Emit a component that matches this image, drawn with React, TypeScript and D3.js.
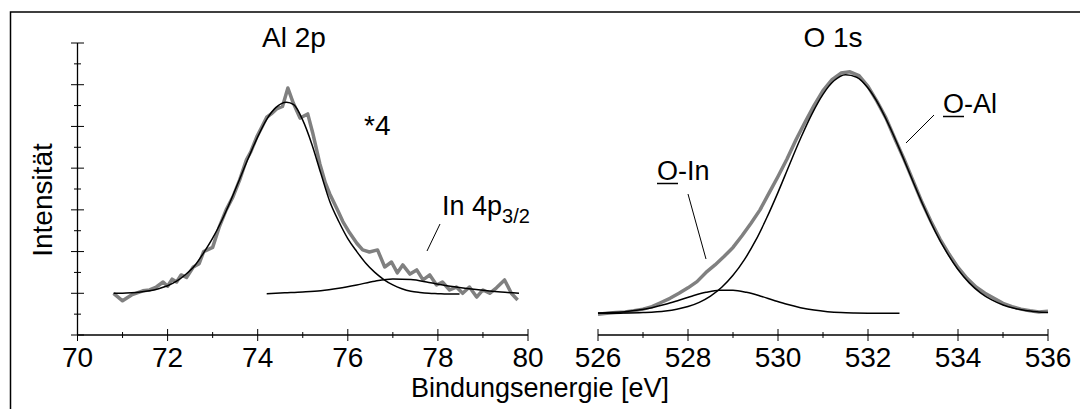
import * as d3 from 'd3';

// Al 2p measured spectrum (binding energy eV, intensity a.u.)
const al2pMeasured: [number, number][] = [
  [70.8, 1.0], [71.0, 0.82], [71.2, 0.96], [71.45, 1.06], [71.6, 1.08], [71.75, 1.15],
  [71.9, 1.27], [72.0, 1.17], [72.1, 1.34], [72.2, 1.27], [72.3, 1.44], [72.42, 1.38],
  [72.57, 1.63], [72.7, 1.71], [72.8, 2.0], [73.0, 2.1], [73.15, 2.6], [73.3, 3.0],
  [73.45, 3.31], [73.6, 3.72], [73.75, 4.2], [73.85, 4.4], [73.98, 4.75], [74.1, 5.0],
  [74.2, 5.22], [74.3, 5.3], [74.42, 5.42], [74.55, 5.48], [74.67, 5.92], [74.79, 5.56],
  [74.94, 5.2], [75.11, 5.3], [75.22, 4.85], [75.38, 4.1], [75.5, 3.65], [75.6, 3.38],
  [75.78, 2.98], [75.89, 2.72], [76.04, 2.45], [76.2, 2.2], [76.33, 2.04], [76.48, 1.99],
  [76.66, 2.04], [76.82, 1.63], [76.97, 1.75], [77.1, 1.49], [77.22, 1.68], [77.38, 1.46],
  [77.53, 1.56], [77.67, 1.32], [77.82, 1.44], [77.97, 1.2], [78.1, 1.27], [78.26, 1.08],
  [78.41, 1.15], [78.55, 1.0], [78.7, 1.15], [78.86, 0.91], [79.0, 1.08], [79.15, 1.0],
  [79.3, 1.13], [79.48, 1.32], [79.63, 1.0], [79.77, 0.84],
];

// Al 2p fitted component
const al2pFit: [number, number][] = [
  [70.8, 1.0], [71.0, 1.0], [71.2, 1.01], [71.4, 1.03], [71.6, 1.06], [71.8, 1.11],
  [72.0, 1.18], [72.2, 1.29], [72.4, 1.45], [72.6, 1.66], [72.8, 1.97], [73.0, 2.32],
  [73.2, 2.74], [73.4, 3.22], [73.6, 3.74], [73.8, 4.26], [74.0, 4.75], [74.2, 5.17],
  [74.4, 5.45], [74.64, 5.58], [74.8, 5.52], [75.0, 5.15], [75.2, 4.58], [75.4, 3.88],
  [75.6, 3.2], [75.8, 2.72], [76.0, 2.31], [76.2, 2.0], [76.4, 1.72], [76.6, 1.5],
  [76.8, 1.33], [77.0, 1.2], [77.2, 1.11], [77.4, 1.05], [77.6, 1.02], [77.8, 1.0],
  [78.0, 0.99], [78.2, 0.98], [78.48, 0.98],
];

// In 4p3/2 fitted component
const in4pFit: [number, number][] = [
  [74.2, 0.99], [74.6, 1.01], [75.0, 1.03], [75.4, 1.06], [75.8, 1.12], [76.2, 1.2],
  [76.6, 1.29], [77.0, 1.34], [77.4, 1.33], [77.8, 1.26], [78.2, 1.18], [78.6, 1.12],
  [79.0, 1.07], [79.4, 1.03], [79.8, 1.0],
];

// O 1s measured spectrum
const o1sMeasured: [number, number][] = [
  [526.0, 0.5], [526.2, 0.52], [526.4, 0.54], [526.6, 0.55], [526.8, 0.58], [527.0, 0.62],
  [527.2, 0.68], [527.4, 0.78], [527.6, 0.88], [527.8, 1.0], [528.0, 1.13], [528.2, 1.28],
  [528.4, 1.5], [528.6, 1.68], [528.8, 1.88], [529.0, 2.1], [529.2, 2.38], [529.4, 2.68],
  [529.6, 3.0], [529.8, 3.4], [530.0, 3.8], [530.2, 4.22], [530.4, 4.68], [530.6, 5.1],
  [530.8, 5.5], [531.0, 5.86], [531.2, 6.12], [531.4, 6.28], [531.6, 6.31], [531.8, 6.22],
  [532.0, 5.96], [532.2, 5.6], [532.4, 5.2], [532.6, 4.7], [532.8, 4.22], [533.0, 3.7],
  [533.2, 3.18], [533.4, 2.72], [533.6, 2.3], [533.8, 1.94], [534.0, 1.62], [534.2, 1.36],
  [534.4, 1.15], [534.6, 1.0], [534.8, 0.88], [535.0, 0.76], [535.2, 0.68], [535.4, 0.62],
  [535.6, 0.58], [535.8, 0.55], [536.0, 0.57],
];

// O 1s fitted components
const oAlFit: [number, number][] = [
  [526.0, 0.52], [526.5, 0.524], [527.0, 0.537], [527.5, 0.575], [527.75, 0.617],
  [528.0, 0.682], [528.25, 0.783], [528.5, 0.932], [528.75, 1.144], [529.0, 1.43],
  [529.25, 1.8], [529.5, 2.26], [529.75, 2.81], [530.0, 3.42], [530.25, 4.07],
  [530.5, 4.71], [530.75, 5.29], [531.0, 5.77], [531.25, 6.1], [531.5, 6.24],
  [531.75, 6.18], [532.0, 5.92], [532.25, 5.5], [532.5, 4.95], [532.75, 4.33],
  [533.0, 3.68], [533.25, 3.05], [533.5, 2.47], [533.75, 1.98], [534.0, 1.57],
  [534.25, 1.25], [534.5, 1.01], [534.75, 0.84], [535.0, 0.72], [535.25, 0.64],
  [535.5, 0.59], [535.75, 0.56], [536.0, 0.54],
];

const oInFit: [number, number][] = [
  [526.0, 0.528], [526.3, 0.538], [526.6, 0.56], [526.9, 0.597], [527.2, 0.655],
  [527.5, 0.735], [527.8, 0.834], [528.1, 0.937], [528.4, 1.023], [528.7, 1.073],
  [529.0, 1.073], [529.3, 1.023], [529.6, 0.937], [529.9, 0.834], [530.2, 0.735],
  [530.5, 0.655], [530.8, 0.597], [531.1, 0.56], [531.4, 0.538], [531.7, 0.528],
  [532.0, 0.523], [532.3, 0.521], [532.7, 0.52],
];

const leftDomain = [70, 80];
const rightDomain = [526, 536];
const yDomain = [0, 7];

const font = '"Liberation Sans", Arial, sans-serif';

export default function App() {
  const xL = d3.scaleLinear().domain(leftDomain).range([77.5, 528]);
  const xR = d3.scaleLinear().domain(rightDomain).range([598, 1048]);
  const y = d3.scaleLinear().domain(yDomain).range([335, 43]);

  const lineL = d3.line<[number, number]>().x((d) => xL(d[0])).y((d) => y(d[1]));
  const lineR = d3.line<[number, number]>().x((d) => xR(d[0])).y((d) => y(d[1]));
  const fitL = d3.line<[number, number]>().x((d) => xL(d[0])).y((d) => y(d[1])).curve(d3.curveMonotoneX);
  const fitR = d3.line<[number, number]>().x((d) => xR(d[0])).y((d) => y(d[1])).curve(d3.curveMonotoneX);

  const xAxis = (sc: d3.ScaleLinear<number, number>) => {
    const [r0, r1] = sc.range();
    return (
      <g>
        <line x1={r0} x2={r1} y1={335} y2={335} stroke="#000" strokeWidth={1.3} />
        {sc.ticks(10).map((t) => {
          const major = t % 2 === 0;
          return (
            <g key={t}>
              <line
                x1={sc(t)} x2={sc(t)}
                y1={major ? 329 : 332} y2={major ? 341 : 338}
                stroke="#000" strokeWidth={1}
              />
              {major && (
                <text x={sc(t)} y={367} textAnchor="middle" fontSize={28} fontFamily={font}>
                  {t}
                </text>
              )}
            </g>
          );
        })}
      </g>
    );
  };

  const yTicks = d3.range(0, 7.01, 0.5);

  return (
    <svg width={1080} height={409} style={{ position: 'absolute', left: 0, top: 0, background: '#fff' }}>
      <rect x={10.5} y={12} width={1100} height={420} fill="#fff" stroke="#000" strokeWidth={1.5} />

      {/* y axis */}
      <line x1={77.5} x2={77.5} y1={y(0)} y2={y(7)} stroke="#000" strokeWidth={1.3} />
      {yTicks.map((t) => {
        const major = t % 1 === 0;
        return (
          <line key={t} x1={major ? 71 : 74} x2={major ? 84 : 81} y1={y(t)} y2={y(t)} stroke="#000" strokeWidth={1} />
        );
      })}

      {xAxis(xL)}
      {xAxis(xR)}

      {/* Al 2p */}
      <path d={lineL(al2pMeasured) ?? ''} fill="none" stroke="#808080" strokeWidth={3.5} strokeLinejoin="round" />
      <path d={fitL(al2pFit) ?? ''} fill="none" stroke="#000" strokeWidth={1.5} />
      <path d={fitL(in4pFit) ?? ''} fill="none" stroke="#000" strokeWidth={1.5} />

      {/* O 1s */}
      <path d={lineR(o1sMeasured) ?? ''} fill="none" stroke="#808080" strokeWidth={3.5} strokeLinejoin="round" />
      <path d={fitR(oAlFit) ?? ''} fill="none" stroke="#000" strokeWidth={1.5} />
      <path d={fitR(oInFit) ?? ''} fill="none" stroke="#000" strokeWidth={1.5} />

      {/* labels */}
      <g fontFamily={font} fill="#000">
        <text x={294} y={47} textAnchor="middle" fontSize={28}>Al 2p</text>
        <text x={833} y={47} textAnchor="middle" fontSize={28}>O 1s</text>
        <text x={364} y={135} fontSize={28}>*4</text>
        <text x={442} y={215} fontSize={27}>
          In 4p<tspan fontSize={20} dy={8}>3/2</tspan>
        </text>
        <line x1={440} y1={224} x2={427} y2={251} stroke="#000" strokeWidth={1} />

        <text x={657} y={180} fontSize={27}>O-In</text>
        <line x1={657} x2={678} y1={183.5} y2={183.5} stroke="#000" strokeWidth={1.5} />
        <line x1={688} y1={194} x2={706} y2={259} stroke="#000" strokeWidth={1} />

        <text x={943} y={113} fontSize={27}>O-Al</text>
        <line x1={943} x2={964} y1={116.5} y2={116.5} stroke="#000" strokeWidth={1.5} />
        <line x1={934} y1={115} x2={906} y2={143} stroke="#000" strokeWidth={1} />

        <text x={540} y={397} textAnchor="middle" fontSize={27}>Bindungsenergie [eV]</text>
        <text transform="translate(52,200) rotate(-90)" textAnchor="middle" fontSize={28}>Intensität</text>
      </g>
    </svg>
  );
}
